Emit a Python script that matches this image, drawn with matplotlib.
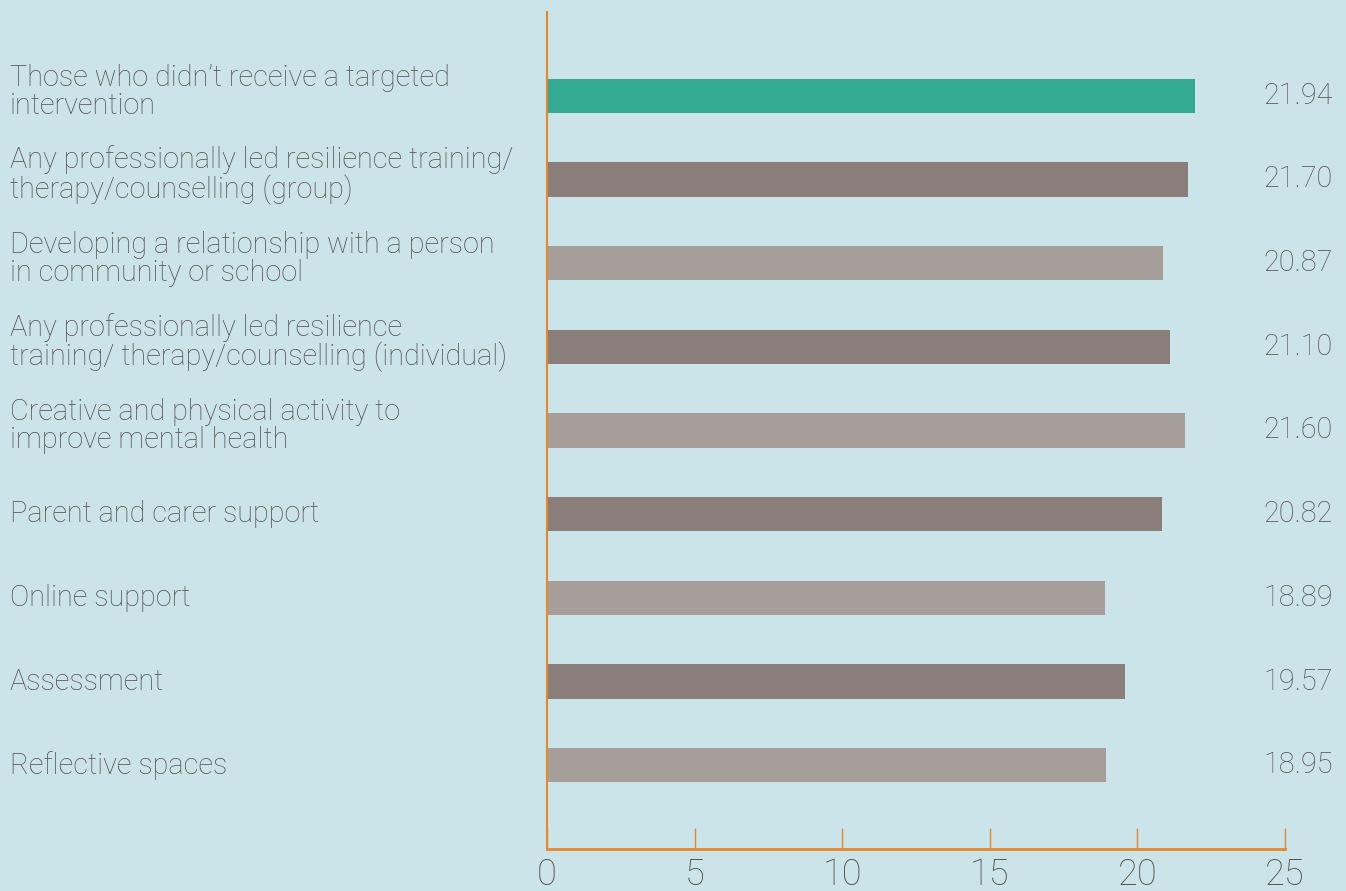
import numpy as np
import matplotlib.pyplot as plt
import matplotlib.transforms as mtransforms

labels = [
    "Those who didn\u2019t receive a targeted\nintervention",
    "Any professionally led resilience training/\ntherapy/counselling (group)",
    "Developing a relationship with a person\nin community or school",
    "Any professionally led resilience\ntraining/ therapy/counselling (individual)",
    "Creative and physical activity to\nimprove mental health",
    "Parent and carer support",
    "Online support",
    "Assessment",
    "Reflective spaces",
]
values = [21.94, 21.70, 20.87, 21.10, 21.60, 20.82, 18.89, 19.57, 18.95]
colors = ["#34AA93", "#897E79", "#A69E98", "#897E79", "#A69E98",
          "#897E79", "#A69E98", "#897E79", "#A69E98"]
xticks = [0, 5, 10, 15, 20, 25]

bg = "#CAE4E9"
txt = "#5A524E"
orange = "#E8862A"

plt.rcParams['font.family'] = ['Roboto', 'DejaVu Sans']

fig = plt.figure(figsize=(13.46, 8.91), dpi=100, facecolor=bg)
ax = fig.add_axes([547/1346, 42/891, 738/1346, 837/891], facecolor=bg)

y = np.arange(len(values))
ax.barh(y, values, height=0.41, color=colors)
ax.set_xlim(0, 25)
ax.set_ylim(9.0, -1.0)

for s in ['top', 'right']:
    ax.spines[s].set_visible(False)
for s in ['left', 'bottom']:
    ax.spines[s].set_color(orange)
    ax.spines[s].set_linewidth(1.5)
ax.spines['bottom'].set_linewidth(2)

ax.set_yticks([])
ax.set_xticks(xticks)
ax.set_xticklabels([str(t) for t in xticks], fontsize=26, color=txt, fontweight='light')
ax.tick_params(axis='x', direction='in', length=15, width=1, color=orange, pad=6)

trans = mtransforms.blended_transform_factory(fig.transFigure, ax.transData)
for i, (lab, v) in enumerate(zip(labels, values)):
    off = -0.05 if "\n" in lab else 0
    ax.text(10/1346, i + off, lab, transform=trans, ha='left', va='center',
            fontsize=20.8, color=txt, fontweight='light', linespacing=1.0)
    ax.text(1333/1346, i, f"{v:.2f}", transform=trans, ha='right', va='center',
            fontsize=20.8, color=txt, fontweight='light')

fig.savefig("out.png", dpi=100, facecolor=bg)
